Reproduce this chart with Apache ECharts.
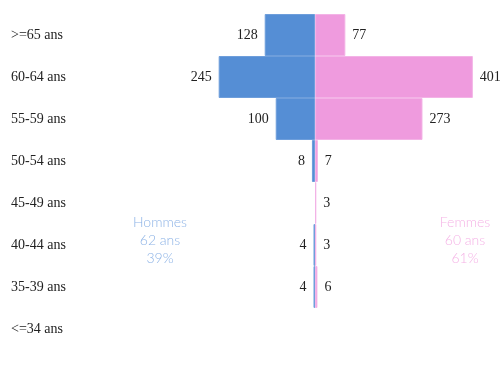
<!DOCTYPE html>
<html>
<head>
<meta charset="utf-8">
<script src="https://cdn.jsdelivr.net/npm/echarts@6/dist/echarts.min.js"></script>
<style>
  html, body { margin: 0; padding: 0; background: #fff; }
  #chart { width: 501px; height: 365px; }
</style>
</head>
<body>
<div id="chart"></div>
<script>
// Age bands, oldest first
const ageBands = ['>=65 ans', '60-64 ans', '55-59 ans', '50-54 ans', '45-49 ans', '40-44 ans', '35-39 ans', '<=34 ans'];
// Head counts per band
const hommes = [128, 245, 100, 8, 0, 4, 4, 0];
const femmes = [77, 401, 273, 7, 3, 3, 6, 0];
// Side summaries
const hommesInfo = ['Hommes', '62 ans', '39%'];
const femmesInfo = ['Femmes', '60 ans', '61%'];

const blue = '#558ED5';
const pink = '#EF9BDE';
const serif = '"Liberation Serif", "DejaVu Serif", serif';

const chart = echarts.init(document.getElementById('chart'));

// empty bands get no bar at all
const bars = (arr, sign) => arr.map(v => (v === 0 ? null : sign * v));

const valueLabel = (pos) => ({
  show: true,
  position: pos,
  distance: 7,
  color: '#222',
  fontFamily: serif,
  fontSize: 14,
  formatter: (p) => String(Math.abs(p.value))
});

const summary = (lines, cx, color) => ({
  type: 'text',
  x: cx,
  y: 213,
  style: {
    text: lines.join('\n'),
    align: 'center',
    verticalAlign: 'top',
    lineHeight: 18,
    fill: color,
    font: '300 14px Lato, "Open Sans", sans-serif'
  }
});

chart.setOption({
  animation: false,
  grid: { left: 79, right: 1, top: 14, bottom: 15, containLabel: false },
  xAxis: {
    type: 'value',
    min: -600,
    max: 470,
    show: false
  },
  yAxis: {
    type: 'category',
    data: ageBands,
    inverse: true,
    axisLine: { show: false },
    axisTick: { show: false },
    splitLine: { show: false },
    axisLabel: {
      align: 'left',
      margin: 68,
      color: '#222',
      fontFamily: serif,
      fontSize: 14
    }
  },
  series: [
    {
      name: 'Hommes',
      type: 'bar',
      stack: 'pyramid',
      barWidth: '100%',
      data: bars(hommes, -1),
      itemStyle: { color: blue, borderColor: '#6E9EDB', borderWidth: 1 },
      label: valueLabel('left')
    },
    {
      name: 'Femmes',
      type: 'bar',
      stack: 'pyramid',
      barWidth: '100%',
      data: bars(femmes, 1),
      itemStyle: { color: pink, borderColor: '#F3B3E6', borderWidth: 1 },
      label: valueLabel('right')
    }
  ],
  graphic: [
    summary(hommesInfo, 160, '#8DB3E6'),
    summary(femmesInfo, 465, '#F5B3E6')
  ]
});
</script>
</body>
</html>
